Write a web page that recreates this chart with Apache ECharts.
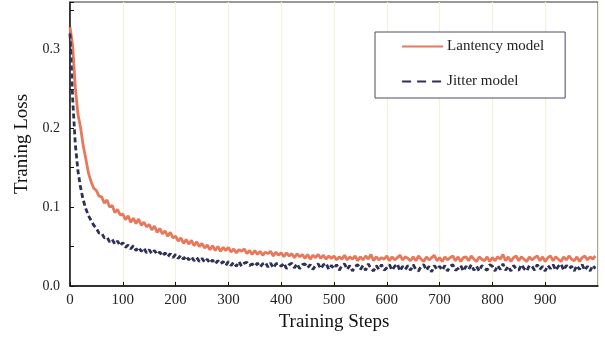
<!DOCTYPE html>
<html>
<head>
<meta charset="utf-8">
<script src="https://cdn.jsdelivr.net/npm/echarts@6/dist/echarts.min.js"></script>
<style>
html, body { margin: 0; padding: 0; background: #fff; }
#chart { width: 605px; height: 337px; }
</style>
</head>
<body>
<div id="chart"></div>
<script>
// one sample every 5 training steps
var STEP = 5;
var latencyLoss = [
	.328,.305,.252,.218,.201,.178,.161,.143,.132,.124,
	.121,.114,.113,.105,.109,.100,.102,.093,.097,.090,
	.091,.084,.089,.081,.086,.079,.085,.077,.081,.075,
	.078,.071,.076,.068,.073,.066,.070,.063,.068,.061,
	.063,.057,.061,.054,.059,.053,.058,.051,.056,.050,
	.054,.048,.052,.046,.051,.045,.050,.044,.049,.045,
	.049,.043,.047,.042,.046,.044,.047,.041,.045,.040,
	.045,.040,.044,.039,.043,.041,.044,.038,.043,.039,
	.042,.037,.042,.038,.041,.036,.041,.037,.040,.035,
	.040,.034,.039,.036,.040,.035,.039,.034,.038,.035,
	.038,.033,.037,.034,.039,.033,.037,.034,.038,.032,
	.037,.033,.038,.034,.040,.032,.037,.033,.036,.034,
	.038,.032,.037,.033,.036,.039,.033,.037,.035,.032,
	.037,.032,.038,.034,.031,.037,.033,.036,.039,.032,
	.036,.031,.037,.033,.036,.038,.032,.037,.031,.036,
	.037,.032,.038,.034,.031,.037,.034,.032,.037,.031,
	.036,.032,.037,.034,.040,.032,.037,.031,.036,.038,
	.032,.037,.034,.031,.037,.033,.036,.038,.032,.037,
	.031,.036,.038,.032,.037,.034,.031,.037,.033,.038,
	.034,.032,.037,.031,.036,.038,.033,.037,.034,.038
];
var jitterLoss = [
	.320,.238,.180,.146,.125,.109,.098,.089,.083,.077,
	.073,.067,.067,.061,.062,.056,.059,.053,.057,.051,
	.055,.049,.052,.047,.051,.045,.049,.044,.048,.042,
	.046,.041,.045,.040,.043,.038,.042,.037,.041,.036,
	.040,.035,.039,.034,.038,.033,.037,.032,.036,.031,
	.035,.030,.034,.029,.033,.028,.032,.028,.031,.026,
	.031,.026,.030,.025,.031,.025,.029,.030,.026,.028,
	.025,.029,.024,.028,.030,.024,.029,.023,.028,.029,
	.025,.029,.022,.027,.029,.023,.028,.022,.027,.028,
	.023,.027,.021,.026,.028,.022,.027,.029,.021,.026,
	.022,.027,.020,.026,.028,.021,.026,.019,.025,.027,
	.021,.026,.020,.028,.022,.019,.026,.021,.027,.020,
	.023,.027,.020,.025,.028,.019,.025,.021,.026,.020,
	.027,.021,.019,.025,.027,.020,.025,.018,.026,.021,
	.025,.020,.026,.019,.025,.027,.020,.022,.026,.019,
	.025,.021,.027,.020,.025,.019,.026,.022,.020,.027,
	.025,.019,.026,.021,.028,.020,.025,.019,.026,.022,
	.020,.027,.022,.019,.026,.025,.020,.027,.021,.025,
	.019,.026,.022,.027,.020,.025,.028,.020,.026,.022,
	.025,.019,.026,.021,.027,.020,.025,.019,.026,.022
];
var seriesNames = ['Lantency model', 'Jitter model'];
var yLabels = ['0.0', '0.1', '0.2', '0.3'];

function toPairs(arr) {
	var out = [];
	for (var i = 0; i < arr.length; i++) {
		out.push([i * STEP, arr[i]]);
	}
	return out;
}

var FONT = 'Liberation Serif';
var myChart = echarts.init(document.getElementById('chart'));
var option = {
	animation: false,
	textStyle: { fontFamily: FONT },
	grid: {
		left: 70, right: 7, top: 2, bottom: 51,
		show: true, borderColor: '#333', borderWidth: 1
	},
	legend: {
		orient: 'vertical',
		left: 375, top: 32,
		padding: [7, 21, 9, 26],
		itemGap: 20,
		itemWidth: 41,
		itemHeight: 14,
		backgroundColor: '#fff',
		borderColor: '#4a4a66',
		borderWidth: 1,
		// hide the marker dot, keep only the line sample
		itemStyle: { opacity: 0 },
		lineStyle: { width: 2.2 },
		textStyle: { fontFamily: FONT, fontSize: 15, color: '#222', padding: [0, 0, 0, -1] },
		data: [
			{ name: seriesNames[0] },
			{ name: seriesNames[1], lineStyle: { type: [9, 6], width: 2.2 } }
		]
	},
	xAxis: {
		type: 'value',
		min: 0, max: 1000, interval: 100,
		name: 'Training Steps',
		nameLocation: 'middle',
		nameGap: 26,
		nameTextStyle: { fontFamily: FONT, fontSize: 19, color: '#111' },
		axisLine: { lineStyle: { color: '#111', width: 1.5 } },
		axisTick: { inside: true, length: 4, lineStyle: { color: '#111' } },
		axisLabel: {
			fontFamily: FONT, fontSize: 15, color: '#222', margin: 7,
			showMaxLabel: false
		},
		splitLine: { show: true, lineStyle: { color: '#f1f1dc', width: 1.2 } }
	},
	yAxis: {
		type: 'value',
		min: 0, max: 0.36, interval: 0.05,
		name: 'Traning Loss',
		nameLocation: 'middle',
		nameGap: 33,
		nameTextStyle: { fontFamily: FONT, fontSize: 19, color: '#111' },
		axisLine: { show: true, lineStyle: { color: '#111', width: 1.5 } },
		axisTick: { show: true, inside: true, length: 4, lineStyle: { color: '#111' } },
		axisLabel: {
			fontFamily: FONT, fontSize: 14, color: '#222', margin: 10,
			formatter: function (v) {
				var k = Math.round(v * 10);
				if (Math.abs(v * 10 - k) > 1e-6) return '';
				return yLabels[k] || '';
			}
		},
		splitLine: { show: false }
	},
	series: [
		{
			name: seriesNames[0],
			type: 'line',
			symbol: 'none',
			data: toPairs(latencyLoss),
			itemStyle: { color: '#e8785a' },
			lineStyle: { color: '#e8785a', width: 2.8 },
			z: 2
		},
		{
			name: seriesNames[1],
			type: 'line',
			symbol: 'none',
			data: toPairs(jitterLoss),
			itemStyle: { color: '#2e3055' },
			lineStyle: { color: '#2e3055', width: 2.8, type: [5, 3] },
			z: 3
		}
	]
};
myChart.setOption(option);
</script>
</body>
</html>
